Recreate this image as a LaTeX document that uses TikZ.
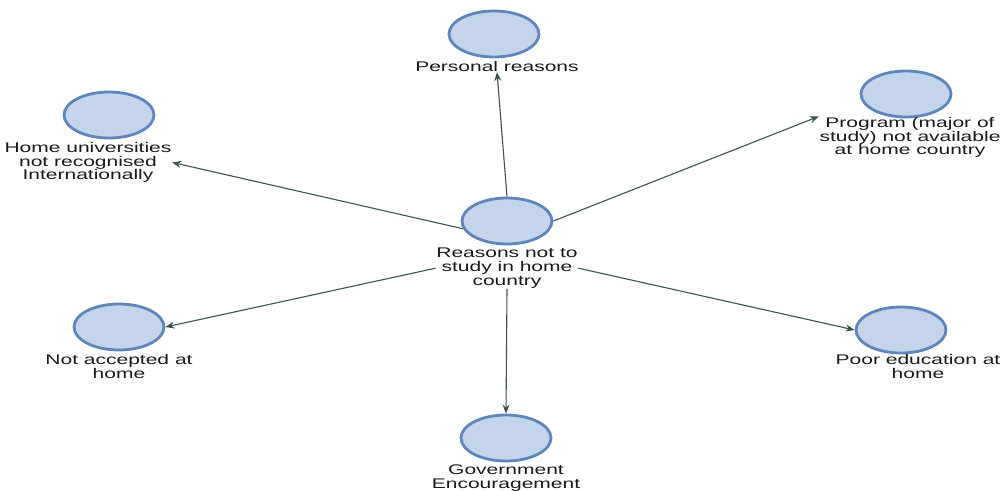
\documentclass[tikz,border=0pt]{standalone}
\usepackage{fontspec}
\setmainfont{Liberation Sans}[FakeStretch=1.5]
\usepackage{tikz}
\usetikzlibrary{arrows.meta,positioning,shapes.geometric}
\definecolor{ovalfill}{HTML}{C4D4EA}
\definecolor{ovalrim}{HTML}{5F86BA}
\definecolor{linkgray}{HTML}{3A5252}
\definecolor{ink}{HTML}{1A1A1A}

\begin{document}
\begin{tikzpicture}[x=1pt,y=-1pt,
  oval/.style={ellipse,draw=ovalrim,fill=ovalfill,line width=2.8pt,
    minimum width=90pt,minimum height=46pt,inner sep=0pt},
  caption/.style={align=center,inner sep=0.5pt,text=ink,
    font=\fontsize{14}{13.8}\selectfont},
  link/.style={draw=linkgray,line width=1.1pt,
    -{Stealth[length=9pt,width=7pt]}}]
  \useasboundingbox (0,0) rectangle (1001,490);

  % centre and its label
  \node[oval] (reasons) at (507,221) {};
  \node[caption,below=2pt of reasons] (reasonsl)
    {Reasons not to\\study in home\\country};

  % outer ovals
  \node[oval] (personal) at (494,34) {};
  \node[caption,below=2pt of personal,xshift=3pt] (personall)
    {Personal reasons};
  \node[oval] (homeuni) at (109,115) {};
  \node[caption,below=2pt of homeuni,xshift=-21pt] (homeunil)
    {Home universities\\not recognised\\Internationally};
  \node[oval] (program) at (906,94) {};
  \node[caption,below=-2pt of program,xshift=4pt] (programl)
    {Program (major of\\study) not available\\at home country};
  \node[oval] (notacc) at (119,327) {};
  \node[caption,below=2pt of notacc] (notaccl)
    {Not accepted at\\home};
  \node[oval] (poor) at (901,330) {};
  \node[caption,below=-1pt of poor,xshift=17pt] (poorl)
    {Poor education at\\home};
  \node[oval] (gov) at (506,438) {};
  \node[caption,below=2pt of gov] (govl)
    {Government\\Encouragement};

  % connectors
  \draw[link] (reasons.north) -- (personall.south);
  \draw[link] (reasons.190) -- (homeunil.east);
  \draw[link] (reasons.east) -- (programl.north west);
  \draw[link] (reasonsl.west) -- (notacc.east);
  \draw[link] (reasonsl.east) -- (poor.west);
  \draw[link] (reasonsl.south) -- (gov.north);
\end{tikzpicture}
\end{document}
